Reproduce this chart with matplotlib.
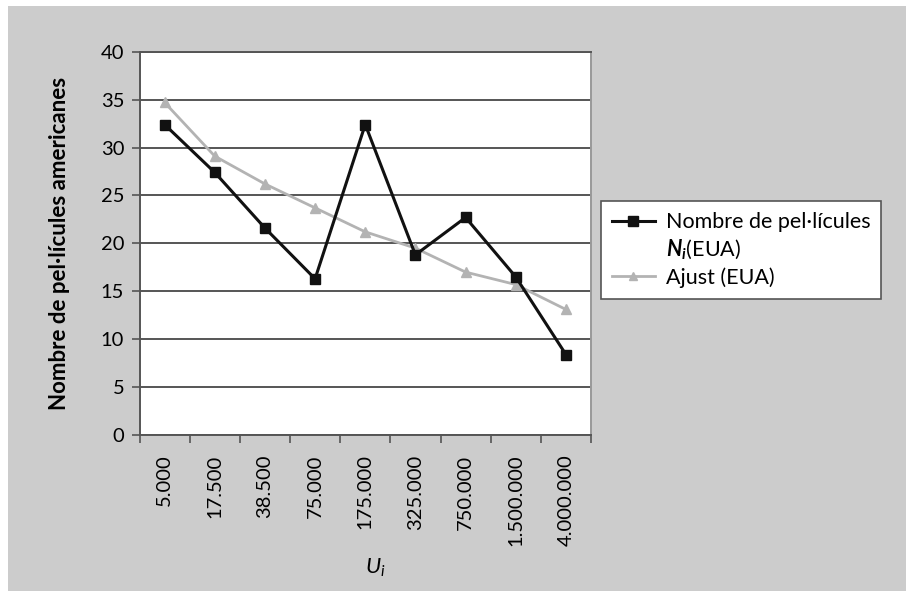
import matplotlib
matplotlib.use("Agg")
import matplotlib.pyplot as plt
from matplotlib.lines import Line2D
from matplotlib.patches import Rectangle

plt.rcParams['font.family'] = ['Lato', 'DejaVu Sans']
plt.rcParams['mathtext.fontset'] = 'custom'
plt.rcParams['mathtext.rm'] = 'Lato'
plt.rcParams['mathtext.it'] = 'Lato:italic'
plt.rcParams['mathtext.bf'] = 'Lato:bold'
plt.rcParams['mathtext.bfit'] = 'Lato:italic:bold'

# Population bands (U_i) and number of American films per band
categories = ["5.000", "17.500", "38.500", "75.000", "175.000",
              "325.000", "750.000", "1.500.000", "4.000.000"]
films_eua = [32.4, 27.4, 21.6, 16.3, 32.4, 18.8, 22.7, 16.5, 8.4]
ajust_eua = [34.7, 29.1, 26.2, 23.7, 21.2, 19.5, 17.0, 15.7, 13.1]
y_ticks = [0, 5, 10, 15, 20, 25, 30, 35, 40]

W, H = 906, 591
fig = plt.figure(figsize=(W / 100, H / 100), dpi=100, facecolor="white")
fig.patches.append(Rectangle((8 / W, 0), (W - 8) / W, (H - 6) / H,
                             transform=fig.transFigure, facecolor="#cccccc",
                             edgecolor="none", zorder=-10))

left, right, top, bottom = 139.5, 591, 51.7, 435
ax = fig.add_axes([left / W, 1 - bottom / H, (right - left) / W, (bottom - top) / H])
ax.set_facecolor("white")

x = list(range(len(categories)))
ax.plot(x, ajust_eua, color="#b3b3b3", lw=2, marker="^", ms=7,
        mfc="#b3b3b3", mec="#b3b3b3", zorder=3)
ax.plot(x, films_eua, color="#111111", lw=2.2, marker="s", ms=7,
        mfc="#111111", mec="#111111", zorder=4)

ax.set_xlim(-0.5, len(categories) - 0.5)
ax.set_ylim(0, 40)
ax.set_yticks(y_ticks)
ax.set_yticklabels([str(v) for v in y_ticks], fontsize=14.5)
ax.yaxis.grid(True, color="#555555", lw=1.4)
ax.set_axisbelow(True)

ax.set_xticks(x)
ax.set_xticklabels(categories, rotation=90, fontsize=14.5)
ax.tick_params(axis="x", length=0, pad=14)
ax.set_xticks([i - 0.5 for i in range(len(categories) + 1)], minor=True)
ax.tick_params(axis="x", which="minor", length=6, width=1.2, color="#555555")
ax.tick_params(axis="y", length=6, width=1.2, color="#555555", pad=5)

for side in ("left", "bottom", "top"):
    ax.spines[side].set_color("#555555")
    ax.spines[side].set_linewidth(1.4)
ax.spines["right"].set_color("#999999")
ax.spines["right"].set_linewidth(1.4)

ax.set_ylabel("Nombre de pel·lícules americanes", fontsize=16,
              fontweight="bold", labelpad=22)
fig.text(375 / W, 1 - 568 / H, r"$\mathit{U_i}$", fontsize=16,
         ha="center", va="center")

handles = [
    Line2D([], [], color="#111111", lw=2.2, marker="s", ms=6.5,
           mfc="#111111", mec="#111111"),
    Line2D([], [], linestyle="none"),
    Line2D([], [], color="#b3b3b3", lw=2, marker="^", ms=6,
           mfc="#b3b3b3", mec="#b3b3b3"),
]
labels = ["Nombre de pel·lícules", r"$\mathbfit{N_i}$(EUA)", "Ajust (EUA)"]
leg = fig.legend(handles, labels, loc="center left",
                 bbox_to_anchor=(601 / W, 1 - 250 / H), fontsize=15.5,
                 frameon=True, fancybox=False, handlelength=2.0,
                 labelspacing=0.25, borderpad=0.5, handletextpad=0.5,
                 borderaxespad=0, facecolor="white", framealpha=1)
leg.get_frame().set_edgecolor("#555555")
leg.get_frame().set_linewidth(1.2)

fig.savefig("out.png", dpi=100, facecolor="white")
